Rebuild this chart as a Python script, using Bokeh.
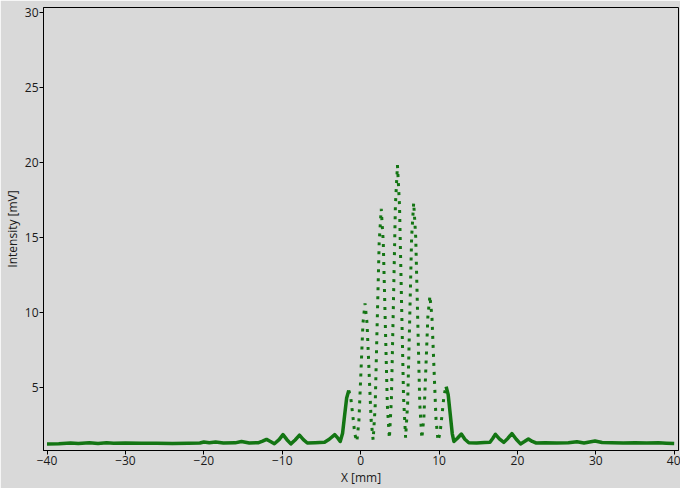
from bokeh.plotting import figure
from bokeh.models import Range1d, FixedTicker
from bokeh.embed import file_html
from bokeh.resources import INLINE

# Outer (dense, solid-looking) parts of the scan
left_x = [-40, -38.5, -37, -36, -34.6, -33.5, -32.4, -31.5, -30, -28, -26, -24, -22,
          -20.5, -20, -19.3, -18.5, -17.5, -16, -15.2, -14.2, -13, -12.5, -12, -11.5,
          -11, -10.4, -9.9, -9.4, -8.9, -8.35, -7.8, -7.3, -6.8, -5.8, -4.6, -4.0,
          -3.3, -2.9, -2.6, -2.3, -2.05, -1.78, -1.51]
left_y = [1.24, 1.25, 1.30, 1.27, 1.31, 1.27, 1.31, 1.29, 1.30, 1.29, 1.28, 1.27, 1.29,
          1.30, 1.37, 1.31, 1.36, 1.30, 1.31, 1.40, 1.30, 1.32, 1.42, 1.54, 1.40,
          1.25, 1.52, 1.86, 1.52, 1.24, 1.50, 1.82, 1.52, 1.30, 1.32, 1.35, 1.55,
          1.86, 1.62, 1.40, 1.95, 3.10, 4.30, 4.80]

right_x = [10.91, 11.17, 11.43, 11.69, 11.9, 12.35, 12.85, 13.3, 13.8, 14.8, 15.8, 16.5,
           16.85, 17.2, 17.7, 18.27, 18.8, 19.3, 19.85, 20.4, 20.9, 21.4, 21.9, 22.4,
           23.5, 25, 26.5, 27.6, 28.5, 29.9, 30.8, 32, 33.5, 35, 36.5, 38, 39, 40]
right_y = [5.05, 4.52, 3.23, 1.93, 1.40, 1.62, 1.90, 1.55, 1.32, 1.30, 1.33, 1.35,
           1.60, 1.88, 1.58, 1.34, 1.62, 1.93, 1.55, 1.24, 1.40, 1.57, 1.40, 1.30,
           1.32, 1.30, 1.31, 1.38, 1.30, 1.43, 1.33, 1.32, 1.30, 1.31, 1.30, 1.31, 1.29, 1.27]

# Central fringes (sparse, dotted-looking)
mid_x = [-1.51, -1.25, -0.99, -0.74, -0.48,
         -0.22, 0.04, 0.30, 0.56, 0.82, 1.08, 1.34, 1.60,
         1.86, 2.11, 2.37, 2.63, 2.89, 3.15, 3.41, 3.67,
         3.93, 4.19, 4.44, 4.70, 4.96, 5.22, 5.48, 5.74,
         6.00, 6.26, 6.51, 6.77, 7.03, 7.29, 7.55, 7.81,
         8.07, 8.33, 8.58, 8.84, 9.10, 9.36, 9.62, 9.88,
         10.14, 10.40, 10.65, 10.91]
mid_y = [4.80, 4.30, 3.10, 1.90, 1.40,
         2.74, 6.00, 9.26, 10.60, 9.27, 6.05, 2.83, 1.50,
         3.75, 9.20, 14.65, 16.90, 14.67, 9.25, 3.83, 1.60,
         4.26, 10.70, 17.14, 19.80, 17.15, 10.73, 4.30, 1.65,
         3.93, 9.48, 15.02, 17.30, 15.00, 9.45, 3.89, 1.60,
         2.99, 6.35, 9.71, 11.10, 9.69, 6.28, 2.86, 1.45,
         1.98, 3.25, 4.52, 5.05]

x_ticks = [-40, -30, -20, -10, 0, 10, 20, 30, 40]
y_ticks = [5, 10, 15, 20, 25, 30]

BG = "#d9d9d9"
GREEN = "#137513"
FONT = "Open Sans"

p = figure(width=680, height=488, output_backend="svg", toolbar_location=None,
           x_range=Range1d(-40.45, 40.55), y_range=Range1d(0.8, 30.3),
           min_border_left=0, min_border_right=2, min_border_top=7, min_border_bottom=0)
p.background_fill_color = BG
p.border_fill_color = BG
p.outline_line_color = "black"
p.outline_line_width = 1
p.grid.visible = False

p.line(left_x, left_y, line_color=GREEN, line_width=3.5, line_join="round")
p.line(right_x, right_y, line_color=GREEN, line_width=3.5, line_join="round")
p.line(mid_x, mid_y, line_color=GREEN, line_width=3, line_dash="3 6", line_cap="butt")

for ax in (p.xaxis[0], p.yaxis[0]):
    ax.axis_line_color = "black"
    ax.major_tick_line_color = "black"
    ax.major_tick_out = 4
    ax.major_tick_in = 0
    ax.minor_tick_line_color = None
    ax.major_label_text_font = FONT
    ax.major_label_text_font_size = "12px"
    ax.major_label_text_color = "#1a1a1a"
    ax.axis_label_text_font = FONT
    ax.axis_label_text_font_size = "12px"
    ax.axis_label_text_font_style = "normal"
    ax.axis_label_text_color = "#1a1a1a"
    ax.major_label_standoff = 1
    ax.axis_label_standoff = 1

p.xaxis.ticker = FixedTicker(ticks=x_ticks)
p.yaxis.ticker = FixedTicker(ticks=y_ticks)
p.xaxis.axis_label = "X [mm]"
p.yaxis.axis_label = "Intensity [mV]"

open("out.html", "w").write(file_html(p, INLINE))
